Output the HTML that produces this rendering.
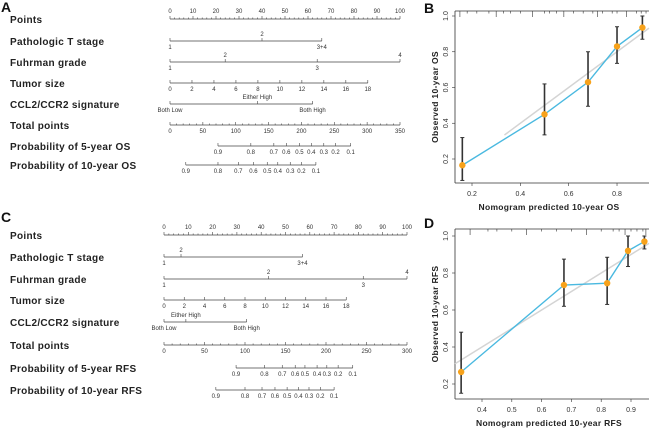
<!DOCTYPE html>
<html><head><meta charset="utf-8"><style>
body{margin:0;background:#fff;}
svg{display:block;font-family:"Liberation Sans",Arial,sans-serif;}
.lab{font-size:10px;font-weight:bold;fill:#222;letter-spacing:0.3px;}
.tk{font-size:6px;fill:#333;}
.pl{font-size:14px;font-weight:bold;fill:#111;}
.at{font-size:8.5px;font-weight:bold;fill:#222;letter-spacing:0.3px;}
.ct{font-size:7px;fill:#333;}
</style></head><body>
<svg id="fig" width="650" height="431" viewBox="0 0 650 431">
<text class="pl" x="1" y="12">A</text>
<text class="pl" x="424" y="13">B</text>
<text class="pl" x="1" y="222">C</text>
<text class="pl" x="424" y="228">D</text>
</svg>
<script>
// ---- Nomogram A data ----
const aRowLabels=["Points","Pathologic T stage","Fuhrman grade","Tumor size","CCL2/CCR2 signature","Total points","Probability of 5-year OS","Probability of 10-year OS"];
const aTLabels=["1","2","3+4"], aTPoints=[0,40,66];
const aFLabels=["1","2","3","4"], aFPoints=[0,24,64,100];
const aSizeTicks=[0,2,4,6,8,10,12,14,16,18], aSizeMax=86;
const aCLabels=["Both Low","Either High","Both High"], aCPoints=[0,38,62];
const aTotalMax=350;
const aP5Labels=["0.9","0.8","0.7","0.6","0.5","0.4","0.3","0.2","0.1"];
const aP5Total=[73,123,158,177,197,215,234,252,275];
const aP10Labels=["0.9","0.8","0.7","0.6","0.5","0.4","0.3","0.2","0.1"];
const aP10Total=[24,73,104,127,148,164,183,200,222];
// ---- Nomogram C data ----
const cRowLabels=["Points","Pathologic T stage","Fuhrman grade","Tumor size","CCL2/CCR2 signature","Total points","Probability of 5-year RFS","Probability of 10-year RFS"];
const cTLabels=["1","2","3+4"], cTPoints=[0,7,57];
const cFLabels=["1","2","3","4"], cFPoints=[0,43,82,100];
const cSizeTicks=[0,2,4,6,8,10,12,14,16,18], cSizeMax=75;
const cCLabels=["Both Low","Either High","Both High"], cCPoints=[0,9,34];
const cTotalMax=300;
const cP5Labels=["0.9","0.8","0.7","0.6","0.5","0.4","0.3","0.2","0.1"];
const cP5Total=[89,124,146,162,174,189,201,215,233];
const cP10Labels=["0.9","0.8","0.7","0.6","0.5","0.4","0.3","0.2","0.1"];
const cP10Total=[64,100,121,137,152,166,179,193,210];
// ---- Calibration B ----
const bPred=[0.16,0.50,0.68,0.80,0.905];
const bObs=[0.165,0.45,0.63,0.83,0.935];
const bLo=[0.08,0.335,0.495,0.735,0.87];
const bHi=[0.32,0.62,0.80,0.94,1.0];
const bXTicks=[0.2,0.4,0.6,0.8], bYTicks=[0.2,0.4,0.6,0.8,1.0];
// ---- Calibration D ----
const dPred=[0.33,0.675,0.82,0.89,0.945];
const dObs=[0.265,0.735,0.745,0.92,0.97];
const dLo=[0.15,0.62,0.63,0.835,0.93];
const dHi=[0.48,0.875,0.885,1.0,1.0];
const dXTicks=[0.4,0.5,0.6,0.7,0.8,0.9], dYTicks=[0.2,0.4,0.6,0.8,1.0];

const svg=document.getElementById('fig');
const NS='http://www.w3.org/2000/svg';
function mk(tag,attrs,parent){const e=document.createElementNS(NS,tag);for(const k in attrs)e.setAttribute(k,attrs[k]);(parent||svg).appendChild(e);return e;}
function line(x1,y1,x2,y2,col,w,p){return mk('line',{x1,y1,x2,y2,stroke:col||'#444','stroke-width':w||0.8},p);}
function txt(s,x,y,cls,anchor,p){const t=mk('text',{x,y,class:cls,'text-anchor':anchor||'middle'},p);t.textContent=s;return t;}

function nomogram(o){
  const g=mk('g',{});
  
  
  const px=v=>o.x0+(o.x1-o.x0)*v/100;
  const tx=v=>o.x0+(o.x1-o.x0)*v/o.totalMax;
  o.rowLabels.forEach((s,i)=>{const t=txt(s,10,o.ys[i]+4,'lab','start',g);
    
    });
  let y=o.ys[0];
  line(o.x0,y,o.x1,y,'#444',0.8,g);
  for(let v=0;v<=100;v+=2){line(px(v),y,px(v),y-(v%10==0?3:1.5),'#444',0.6,g);}
  for(let v=0;v<=100;v+=10)txt(String(v),px(v),y-6,'tk','middle',g);
  function cat(yy,pts,labs,above){
    line(px(pts[0]),yy,px(Math.max(...pts)),yy,'#444',0.8,g);
    pts.forEach((p,i)=>{line(px(p),yy,px(p),yy-3,'#444',0.6,g);
      const up=above[i];txt(labs[i],px(p),up?yy-5:yy+8,'tk','middle',g);});
  }
  cat(o.ys[1],o.tPts,o.tLabs,[false,true,false]);
  cat(o.ys[2],o.fPts,o.fLabs,[false,true,false,true]);
  y=o.ys[3];
  line(px(0),y,px(o.sizeMax),y,'#444',0.8,g);
  o.sizeTicks.forEach(s=>{const xx=px(o.sizeMax*s/o.sizeTicks[o.sizeTicks.length-1]);line(xx,y,xx,y-3,'#444',0.6,g);txt(String(s),xx,y+8,'tk','middle',g);});
  cat(o.ys[4],o.cPts,o.cLabs,[false,true,false]);
  y=o.ys[5];
  line(o.x0,y,o.x1,y,'#444',0.8,g);
  for(let v=0;v<=o.totalMax;v+=10){line(tx(v),y,tx(v),y-(v%50==0?3:1.5),'#444',0.6,g);}
  for(let v=0;v<=o.totalMax;v+=50)txt(String(v),tx(v),y+8,'tk','middle',g);
  [[o.p5,o.p5L,o.ys[6]],[o.p10,o.p10L,o.ys[7]]].forEach(([tot,labs,yy])=>{
    line(tx(tot[0]),yy,tx(tot[tot.length-1]),yy,'#444',0.8,g);
    tot.forEach((t,i)=>{line(tx(t),yy,tx(t),yy-3,'#444',0.6,g);txt(labs[i],tx(t),yy+8,'tk','middle',g);});
  });
}
nomogram({name:'nomogram-os',x0:170,x1:400,ys:[19,41,62,83,104,125,146,165],rowLabels:aRowLabels,
 tPts:aTPoints,tLabs:aTLabels,fPts:aFPoints,fLabs:aFLabels,sizeTicks:aSizeTicks,sizeMax:aSizeMax,
 cPts:aCPoints,cLabs:aCLabels,totalMax:aTotalMax,p5:aP5Total,p5L:aP5Labels,p10:aP10Total,p10L:aP10Labels});
nomogram({name:'nomogram-rfs',x0:164,x1:407,ys:[235,257,279,300,322,345,368,390],rowLabels:cRowLabels,
 tPts:cTPoints,tLabs:cTLabels,fPts:cFPoints,fLabs:cFLabels,sizeTicks:cSizeTicks,sizeMax:cSizeMax,
 cPts:cCPoints,cLabs:cCLabels,totalMax:cTotalMax,p5:cP5Total,p5L:cP5Labels,p10:cP10Total,p10L:cP10Labels});

function calib(o){
  const g=mk('g',{});
  
  
  const X=v=>o.xa+(v-o.xv0)*o.xs, Y=v=>o.ya+(v-o.yv0)*o.ys;
  const L=455,R=649,T=o.top,B=o.bottom;
  line(L,T,R,T,'#333',0.8,g); line(L,T,L,B,'#333',0.8,g); line(L,B,R,B,'#333',0.8,g);
  o.rug.forEach((v,i)=>line(X(v),T,X(v),T+(i%4==0?6:2.5),'#333',0.6,g));
  const lo=Math.max(o.xv0-(o.xa-L)/o.xs, o.yv0-(B-o.ya)/o.ys);
  const hi=Math.min(o.xv0+(R-o.xa)/o.xs,1.0);
  line(X(lo),Y(lo),X(hi),Y(hi),'#d4d4d4',1.5,g);
  o.xt.forEach(v=>{line(X(v),B,X(v),B+3,'#333',0.6,g);txt(v.toFixed(1),X(v),B+13,'ct','middle',g);});
  o.yt.forEach(v=>{line(L,Y(v),L-3,Y(v),'#333',0.6,g);const t=txt(v.toFixed(1),L-7,Y(v),'ct','middle',g);t.setAttribute('transform',`rotate(-90 ${L-7} ${Y(v)})`);});
  o.pred.forEach((p,i)=>{const e=line(X(p),Y(o.lo[i]),X(p),Y(o.hi[i]),'#333',1.6,g);
    
    
    line(X(p)-2,Y(o.lo[i]),X(p)+2,Y(o.lo[i]),'#333',1,g);line(X(p)-2,Y(o.hi[i]),X(p)+2,Y(o.hi[i]),'#333',1,g);});
  const pl=mk('polyline',{points:o.pred.map((p,i)=>X(p)+','+Y(o.obs[i])).join(' '),fill:'none',stroke:'#4ab9e0','stroke-width':1.4},g);
  
  
  o.pred.forEach((p,i)=>{const c=mk('circle',{cx:X(p),cy:Y(o.obs[i]),r:3.2,fill:'#f7a21b'},g);
    
    });
  const xt=txt(o.xtitle,549,B+27,'at','middle',g);
  
  
  const cy=(T+B)/2;
  const yt=txt(o.ytitle,438,cy,'at','middle',g);yt.setAttribute('transform',`rotate(-90 438 ${cy})`);
  
  
}
calib({name:'calibration-os',top:11,bottom:183,xa:472,xv0:0.2,xs:241.7,ya:159,yv0:0.2,ys:-178.75,
 pred:bPred,obs:bObs,lo:bLo,hi:bHi,xt:bXTicks,yt:bYTicks,xtitle:'Nomogram predicted 10-year OS',ytitle:'Observed 10-year OS',
 rug:[0.15,0.18,0.22,0.27,0.3,0.33,0.36,0.4,0.45,0.5,0.52,0.55,0.58,0.62,0.66,0.7,0.72,0.74,0.78,0.8,0.84,0.88,0.9,0.92]});
calib({name:'calibration-rfs',top:229,bottom:399,xa:482,xv0:0.4,xs:298,ya:384,yv0:0.2,ys:-185,
 pred:dPred,obs:dObs,lo:dLo,hi:dHi,xt:dXTicks,yt:dYTicks,xtitle:'Nomogram predicted 10-year RFS',ytitle:'Observed 10-year RFS',
 rug:[0.36,0.42,0.45,0.5,0.55,0.6,0.65,0.7,0.75,0.8,0.84,0.86,0.88,0.9,0.92,0.94,0.95]});
</script>
</body></html>
